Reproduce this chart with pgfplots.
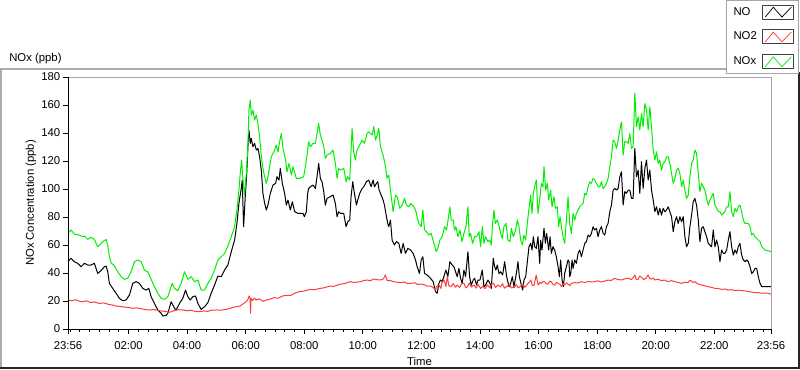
\documentclass[border=0pt]{standalone}
\usepackage{fontspec}
\setmainfont{Liberation Sans}
\usepackage{pgfplots}
\usepackage{pgfplotstable}
\pgfplotsset{compat=1.18}
\definecolor{cNO}{RGB}{0,0,0}
\definecolor{cNOtwo}{RGB}{255,60,60}
\definecolor{cNOx}{RGB}{0,238,0}
\newcommand{\lvfont}{\fontsize{8.5pt}{10pt}\selectfont}

\pgfplotstableread{
t v
-4 48.1
2.2 50.5
9.0 48.1
15.8 46.9
22.7 44.5
29.5 46.9
36.3 45.7
43.2 45.7
50.0 46.9
56.9 39.7
63.7 41.7
70.5 44.5
74.0 45.0
77.4 40.9
80.8 32.6
87.6 29.0
94.5 25.5
101.3 21.9
108.1 20.2
115.0 20.7
121.8 24.3
128.7 32.6
135.5 33.8
142.3 32.6
149.2 29.0
156.0 27.8
161.5 29.0
166.3 23.1
173.1 18.3
180.0 13.6
186.8 11.2
190.2 9.3
197.0 9.8
200.5 11.2
207.3 19.5
214.1 14.8
217.6 13.6
224.4 18.3
231.2 21.9
236.7 27.8
241.5 23.1
246.3 20.7
251.7 23.1
257.2 23.6
262.0 18.3
268.8 14.0
275.7 15.9
282.5 18.8
289.3 25.5
296.2 31.4
303.0 37.8
309.9 37.4
316.7 42.1
323.5 45.7
330.4 55.2
337.2 63.5
342.0 75.4
346.1 89.7
350.9 100.4
352.9 106.4
355.7 73.1
359.1 94.5
361.8 108.8
364.6 130.2
366.6 142.1
369.4 132.6
371.4 136.1
374.8 130.2
378.2 132.6
381.7 127.8
385.1 129.0
388.5 123.0
391.9 113.5
395.3 96.9
398.8 89.7
402.2 85.0
405.6 88.5
410.4 96.9
415.9 102.8
421.3 104.0
424.1 108.8
428.2 106.4
430.9 114.7
435.0 104.0
439.8 96.9
443.2 88.5
446.6 92.1
451.4 85.0
455.5 90.9
460.3 83.8
467.1 82.6
477.4 82.6
480.1 80.2
484.2 83.8
486.9 96.9
489.0 100.4
492.4 101.6
497.9 102.8
502.7 100.4
506.1 108.8
509.5 118.3
512.9 107.6
516.3 105.2
519.8 98.1
523.2 88.5
526.6 93.3
533.4 94.5
538.9 95.7
543.7 89.7
547.1 80.2
550.5 83.8
554.0 82.6
560.8 82.6
565.6 73.1
569.0 76.6
573.1 77.8
575.8 94.5
579.3 105.2
582.7 96.9
586.8 88.5
589.5 92.1
593.6 96.9
598.4 100.4
601.8 101.6
607.3 105.2
612.1 106.4
616.9 101.6
621.0 106.4
623.7 101.6
627.8 104.0
630.5 105.2
633.3 99.2
637.4 95.7
641.5 92.1
644.2 88.5
648.3 80.2
651.0 75.4
653.1 73.1
656.5 77.8
659.9 63.5
664.7 60.0
668.8 62.4
673.6 61.2
678.4 54.0
682.5 61.2
687.3 54.0
692.1 57.6
697.6 56.4
703.0 54.0
707.8 49.3
711.2 44.5
716.0 39.7
719.4 49.3
722.9 51.6
726.3 39.7
731.7 38.6
738.6 36.2
744.1 33.8
748.8 26.7
752.3 25.5
755.7 32.6
759.1 35.0
762.5 33.8
765.9 37.4
770.0 42.1
774.1 37.4
778.2 48.1
783.0 45.7
786.4 44.5
789.9 40.9
793.3 37.4
796.7 43.3
800.1 36.2
803.5 32.6
807.0 42.1
810.4 37.4
815.2 55.2
818.6 37.4
822.0 31.4
826.1 35.0
828.8 36.2
832.9 31.4
835.7 35.0
839.8 35.0
844.6 42.1
848.0 30.2
851.4 31.4
856.2 35.0
860.3 32.6
863.0 29.0
867.1 50.5
869.9 44.5
872.6 42.1
875.3 45.7
878.8 39.7
882.2 40.9
886.3 38.6
890.4 48.1
894.5 37.4
899.3 30.2
902.7 32.6
906.1 37.4
909.5 30.2
915.0 40.9
917.7 48.1
920.5 37.4
924.6 31.4
927.3 27.8
930.0 35.0
933.5 37.4
936.9 48.1
940.3 58.8
943.7 61.2
946.5 56.4
949.2 65.9
951.9 58.8
955.3 57.6
958.7 65.9
962.2 46.9
964.2 63.5
966.9 56.4
971.0 71.9
973.8 61.2
976.5 68.3
980.6 56.4
983.4 65.9
986.1 54.0
989.5 58.8
992.9 56.4
996.3 51.6
999.8 44.5
1002.5 37.4
1005.2 49.3
1008.0 35.0
1010.7 30.2
1013.4 39.7
1016.9 44.5
1020.3 49.3
1022.3 48.1
1023.7 37.4
1025.8 39.7
1028.5 49.3
1030.5 43.3
1034.0 49.3
1037.4 46.9
1040.8 54.0
1044.2 56.4
1047.6 51.6
1051.1 56.4
1054.5 61.2
1057.9 62.4
1061.3 67.1
1064.7 65.9
1068.1 68.3
1071.6 73.1
1075.0 70.7
1078.4 71.9
1081.8 65.9
1085.2 70.7
1088.7 73.1
1092.1 68.3
1095.5 67.1
1098.9 73.1
1102.3 75.4
1105.8 83.8
1109.2 88.5
1112.6 99.2
1116.0 100.4
1119.4 99.2
1122.9 100.4
1126.3 108.8
1129.7 112.3
1133.1 88.5
1136.5 98.1
1139.9 96.9
1143.4 99.2
1146.8 99.2
1150.2 93.3
1153.6 93.3
1157.0 129.0
1160.5 108.8
1163.9 113.5
1167.3 96.9
1170.7 119.5
1174.1 100.4
1177.6 114.7
1181.0 120.7
1184.4 106.4
1187.8 113.5
1191.2 99.2
1194.7 92.1
1198.1 83.8
1201.5 87.3
1204.9 81.4
1208.3 86.2
1211.7 81.4
1215.2 86.2
1218.6 83.8
1222.0 85.0
1225.4 87.3
1228.8 83.8
1232.3 80.2
1235.7 69.5
1239.1 76.6
1242.5 80.2
1245.9 75.4
1249.4 80.2
1252.8 76.6
1256.2 80.2
1259.6 65.9
1263.0 58.8
1266.5 61.2
1269.9 73.1
1273.3 81.4
1276.7 90.9
1280.1 93.3
1283.5 88.5
1287.0 77.8
1290.4 62.4
1293.8 71.9
1297.2 73.1
1300.6 69.5
1304.1 65.9
1307.5 61.2
1310.9 60.0
1314.3 58.8
1317.7 70.7
1321.2 58.8
1324.6 63.5
1328.0 58.8
1331.4 48.1
1334.8 56.4
1338.3 54.0
1341.7 54.0
1345.1 56.4
1348.5 63.5
1351.9 69.5
1355.3 58.8
1358.8 52.8
1362.2 56.4
1365.6 54.0
1369.0 58.8
1372.4 61.2
1375.9 52.8
1379.3 49.3
1382.7 48.1
1386.1 49.3
1389.5 48.1
1393.0 44.5
1396.4 39.7
1399.8 40.9
1403.2 43.3
1406.6 43.3
1410.0 37.4
1413.5 32.6
1416.9 30.2
1423.7 30.2
1430.6 30.2
1436 30.2
}\tabNO

\pgfplotstableread{
t v
-4 20.7
4 20.2
12 20.9
20 19.8
26 19.5
34 20.1
42 18.9
50 19.3
60 18.3
70 18.6
80 17.5
88 17.1
94 16.4
104 16.0
112 15.6
120 15.4
128 14.8
136 15.1
146 14.5
154 13.9
162 13.6
172 13.9
180 13.2
190 12.8
197 12.4
205 12.0
214 13.2
222 13.8
231 13.6
240 13.0
248 13.4
256 12.6
265 12.4
274 12.9
282 12.6
290 13.4
300 13.6
310 13.5
320 14.0
328 14.8
334 15.5
340 15.9
348 16.4
354 17.8
361 19.5
365 21.5
367 23.6
369 22.0
370 11.2
371 21.9
374 20.4
378 22.0
382 20.7
388 21.6
395 19.8
402 20.7
410 21.3
418 22.4
426 22.0
436 23.6
444 24.1
452 24.0
462 25.8
470 26.7
480 27.1
492 28.3
500 28.0
512 29.0
520 29.4
533 30.7
540 30.4
554 32.1
562 32.4
574 33.8
582 33.2
595 33.8
602 34.6
609 35.0
615 34.4
622 35.7
630 35.2
636 35.0
642 35.8
646 38.6
650 34.5
656 34.6
663 33.8
670 33.4
677 33.1
685 33.6
692 32.4
698 32.6
706 33.0
712 31.8
718 32.1
726 31.6
732 30.6
739 30.7
744 29.6
749 27.8
752 30.8
756 31.4
760 29.0
762 33.2
766 35.0
770 30.4
773 37.4
776 31.0
780 30.2
785 32.4
790 29.8
793 31.4
798 29.6
803 32.8
807 32.6
811 29.4
814 30.2
818 32.9
822 30.0
828 31.4
832 29.2
836 31.8
841 29.0
846 30.6
850 28.8
855 31.4
860 29.4
864 32.2
868 32.6
872 29.6
876 31.4
882 30.2
886 32.4
890 29.2
896 30.7
900 32.0
904 29.4
910 29.7
914 31.8
918 29.3
923 30.7
928 31.8
932 29.8
937 32.1
941 33.6
944 35.0
947 31.0
951 31.4
955 38.6
959 31.4
963 33.4
966 32.6
970 34.0
972 33.8
976 32.2
979 32.1
983 34.2
986 33.8
990 31.6
993 31.4
997 33.4
1000 32.6
1004 31.8
1007 30.2
1010 32.4
1013 31.4
1017 33.0
1020 32.1
1024 31.0
1027 32.6
1034 33.2
1040 32.8
1048 33.8
1055 33.2
1062 34.0
1068 33.6
1075 33.8
1082 34.4
1088 33.6
1095 34.2
1102 35.0
1108 34.6
1116 36.2
1122 35.4
1130 35.0
1136 35.8
1143 36.2
1150 35.4
1154 36.8
1157 38.6
1160 35.2
1164 35.5
1167 37.8
1171 36.9
1175 35.4
1180 36.2
1184 38.6
1188 35.8
1191 35.7
1195 36.4
1198 35.0
1204 35.6
1212 34.5
1218 35.0
1225 33.8
1232 34.6
1239 33.8
1246 33.2
1253 32.6
1260 33.4
1266 33.1
1270 34.8
1273 34.3
1277 33.2
1280 33.8
1284 32.8
1287 32.1
1294 31.4
1300 31.0
1307 30.2
1314 29.8
1321 29.0
1328 28.9
1335 28.3
1342 28.6
1348 27.8
1355 28.1
1362 27.4
1369 27.8
1376 27.4
1383 27.2
1390 26.7
1397 26.4
1403 25.9
1410 25.9
1417 25.5
1424 25.7
1431 25.5
1436 24.8
}\tabNOtwo

\pgfplotstableread{
t v
-4 68.3
2.2 70.7
9.0 67.8
19.3 67.1
26.1 65.9
29.5 66.4
36.3 64.0
43.2 65.5
50.0 64.0
56.9 58.8
60.3 60.0
67.1 62.4
74.0 64.0
77.4 60.0
80.8 51.6
84.2 47.4
91.1 45.0
97.9 40.9
104.7 37.4
111.6 35.5
118.4 36.2
125.2 40.9
132.1 48.1
138.9 49.3
145.8 48.1
152.6 42.1
159.4 40.9
166.3 35.5
173.1 30.2
180.0 25.5
186.8 21.9
193.6 21.2
200.5 23.1
209.3 32.6
214.1 29.0
221.0 27.4
227.8 32.6
234.6 40.9
241.5 35.5
248.3 37.4
255.2 33.8
262.0 35.0
268.8 27.8
275.7 27.8
282.5 32.6
289.3 36.2
296.2 42.1
303.0 49.3
309.9 51.6
316.7 54.0
323.5 59.3
330.4 65.9
337.2 73.1
342.0 85.0
346.1 99.2
348.8 111.1
351.6 120.7
354.3 106.4
357.7 95.7
361.2 111.1
364.6 131.4
366.6 156.4
369.4 163.5
371.4 152.8
374.8 156.4
378.2 149.2
381.7 152.8
385.1 146.8
388.5 137.3
391.9 124.2
395.3 114.7
398.8 108.8
402.2 104.0
405.6 108.8
412.4 123.0
419.3 127.8
422.7 131.4
426.1 126.6
429.5 133.8
433.0 139.7
436.4 129.0
441.8 120.7
444.6 112.3
448.7 118.3
453.5 110.0
456.9 115.9
463.7 107.6
470.6 107.6
478.7 108.8
482.2 115.9
486.9 127.8
489.0 133.8
492.4 130.2
497.9 132.6
502.7 132.6
506.1 139.7
509.5 146.8
512.9 138.5
516.3 134.9
519.8 130.2
523.2 121.9
526.6 124.2
533.4 125.4
538.9 127.8
543.7 118.3
547.1 107.6
550.5 114.7
554.0 113.5
560.8 114.7
565.6 105.2
569.0 108.8
573.1 106.4
575.8 127.8
577.9 143.3
581.3 126.6
584.7 120.7
588.1 127.8
593.6 131.4
598.4 134.9
603.2 132.6
608.7 139.7
612.1 140.9
618.9 138.5
622.3 144.5
625.8 134.9
629.2 138.5
632.6 143.3
636.0 130.2
639.4 126.6
642.9 121.9
646.3 115.9
649.7 107.6
653.1 110.0
656.5 99.2
662.0 83.8
666.8 95.7
670.2 94.5
675.7 86.2
680.5 88.5
685.2 93.3
689.3 88.5
694.1 87.3
697.6 89.7
704.4 87.3
707.8 85.0
711.2 80.2
714.6 75.4
719.4 73.1
722.9 85.0
726.3 70.7
730.4 69.5
735.2 67.1
739.9 68.3
745.4 61.2
750.2 55.2
753.6 57.6
757.7 63.5
762.5 65.9
767.3 73.1
771.4 70.7
775.5 80.2
778.2 87.3
781.0 77.8
785.1 77.8
787.8 70.7
790.6 73.1
794.7 65.9
798.8 70.7
802.9 62.4
807.0 68.3
811.1 73.1
815.2 87.3
817.9 65.9
820.6 68.3
824.7 61.2
828.8 65.9
832.9 65.9
837.7 69.5
841.2 58.8
844.6 73.1
848.0 61.2
851.4 65.9
856.2 62.4
860.3 63.5
863.0 60.0
865.8 75.4
868.5 85.0
871.2 75.4
875.3 77.8
879.4 73.1
882.2 68.3
885.6 64.7
889.0 73.1
893.1 75.4
897.2 63.5
901.3 62.4
904.1 71.9
908.2 65.9
912.9 70.7
916.4 77.8
919.8 73.1
923.2 63.5
926.6 60.0
930.0 67.1
933.5 63.5
936.9 75.4
940.3 86.2
943.7 95.7
946.5 82.6
949.2 96.9
951.9 101.6
955.3 106.4
958.7 82.6
962.2 92.1
965.6 104.0
969.0 101.6
971.0 115.9
974.5 99.2
977.9 104.0
980.6 92.1
984.7 99.2
987.5 87.3
991.6 94.5
994.3 86.2
998.4 87.3
1001.1 73.1
1003.9 80.2
1006.6 73.1
1010.0 65.9
1013.4 61.2
1016.9 77.8
1020.3 94.5
1023.7 75.4
1027.1 68.3
1030.5 82.6
1034.0 77.8
1037.4 82.6
1040.8 85.0
1044.2 87.3
1047.6 88.5
1051.1 89.7
1054.5 96.9
1057.9 95.7
1061.3 101.6
1064.7 105.2
1068.1 104.0
1071.6 107.6
1075.0 106.4
1078.4 104.0
1081.8 101.6
1085.2 101.6
1088.7 105.2
1092.1 100.4
1095.5 101.6
1098.9 104.0
1102.3 107.6
1105.8 115.9
1109.2 123.0
1112.6 134.9
1116.0 133.8
1119.4 129.0
1122.9 134.9
1126.3 142.1
1129.7 148.0
1133.1 124.2
1136.5 133.8
1139.9 133.8
1143.4 132.6
1146.8 139.7
1150.2 129.0
1153.6 130.2
1157.0 168.3
1160.5 144.5
1163.9 151.6
1167.3 142.1
1170.7 154.0
1174.1 144.5
1177.6 161.1
1181.0 156.4
1184.4 142.1
1187.8 158.7
1191.2 144.5
1194.7 127.8
1198.1 120.7
1201.5 126.6
1204.9 118.3
1208.3 120.7
1211.7 113.5
1215.2 118.3
1218.6 119.5
1222.0 123.0
1225.4 123.0
1228.8 118.3
1232.3 111.1
1235.7 104.0
1239.1 107.6
1242.5 113.5
1245.9 114.7
1249.4 111.1
1252.8 101.6
1256.2 106.4
1259.6 99.2
1263.0 93.3
1266.5 95.7
1269.9 108.8
1273.3 118.3
1276.7 120.7
1280.1 127.8
1283.5 125.4
1287.0 111.1
1290.4 98.1
1293.8 104.0
1297.2 101.6
1300.6 99.2
1304.1 93.3
1307.5 88.5
1310.9 92.1
1314.3 94.5
1317.7 96.9
1321.2 88.5
1324.6 86.2
1328.0 83.8
1331.4 83.8
1334.8 81.4
1338.3 82.6
1341.7 83.8
1345.1 87.3
1348.5 87.3
1351.9 98.1
1355.3 83.8
1358.8 80.2
1362.2 86.2
1365.6 83.8
1369.0 87.3
1372.4 88.5
1375.9 83.8
1379.3 77.8
1382.7 75.4
1386.1 75.4
1389.5 75.4
1393.0 73.1
1396.4 67.1
1399.8 68.3
1403.2 65.9
1406.6 64.7
1410.0 63.5
1413.5 62.4
1416.9 58.8
1423.7 56.4
1430.6 55.9
1436 55.2
}\tabNOx

\begin{document}
\begin{tikzpicture}
\useasboundingbox (0pt,0pt) rectangle (600pt,276.75pt);
% outer panel frame
\draw[gray!65, line width=1.5pt] (0.75pt,0pt) -- (0.75pt,225pt) -- (547.5pt,225pt);
\draw[black!85, line width=1.5pt] (0pt,0.75pt) -- (599.25pt,0.75pt) -- (599.25pt,222.75pt);
% panel title
\node[anchor=west, font=\lvfont, inner sep=0pt] at (6.75pt,232.5pt) {NOx (ppb)};
\begin{axis}[
  at={(51pt,30pt)}, anchor=south west,
  scale only axis, width=527.25pt, height=189pt,
  xmin=-4, xmax=1436, ymin=0, ymax=180,
  xtick={-4,120,240,360,480,600,720,840,960,1080,1200,1320,1436},
  xticklabels={23:56,02:00,04:00,06:00,08:00,10:00,12:00,14:00,16:00,18:00,20:00,22:00,23:56},
  minor xtick={0,20,...,1420},
  ytick={0,20,...,180},
  tick align=outside, tick pos=left,
  major tick length=3.75pt, minor tick length=2.2pt,
  every tick/.style={black, line width=0.6pt},
  axis line style={draw=none},
  tick label style={font=\lvfont, black},
  xticklabel style={yshift=-2pt},
  yticklabel style={xshift=1.5pt},
  /pgf/number format/assume math mode=true,
  label style={font=\lvfont},
  xlabel={Time},
  ylabel={NOx Concentration (ppb)},
  xlabel style={at={(axis description cs:0.5,-0.127)}, anchor=center},
  ylabel style={at={(axis description cs:-0.0526,0.5)}, anchor=center},
  legend plot pos=right,
  legend cell align=left,
  legend style={at={(axis description cs:1.0398,1.3056)}, anchor=north east,
    draw=gray!70, fill=white, line width=0.75pt, font=\lvfont,
    row sep=7.2pt, inner xsep=3pt, inner ysep=3pt, column sep=2pt},
  legend image code/.code={
    \draw[black!75, line width=0.75pt, fill=white, solid] (0pt,-5.25pt) rectangle (23.5pt,5.25pt);
    \draw[#1, line width=0.55pt] (2pt,-3.7pt) -- (8pt,3.7pt) -- (14.5pt,-3.7pt) -- (21.5pt,3.7pt);
  },
  every axis plot/.append style={line width=0.75pt, line join=round},
]
\addplot[color=cNO, no markers] table[x=t, y=v] {\tabNO};
\addlegendentry{NO}
\addplot[color=cNOtwo, no markers] table[x=t, y=v] {\tabNOtwo};
\addlegendentry{NO2}
\addplot[color=cNOx, no markers] table[x=t, y=v] {\tabNOx};
\addlegendentry{NOx}
\end{axis}
% plot-area frame: dark left/bottom, grey top/right
\draw[gray!70, line width=0.75pt] (578.25pt,30pt) -- (578.25pt,219pt) -- (51pt,219pt);
\draw[black, line width=0.75pt] (51pt,219pt) -- (51pt,30pt) -- (578.25pt,30pt);
\end{tikzpicture}
\end{document}
